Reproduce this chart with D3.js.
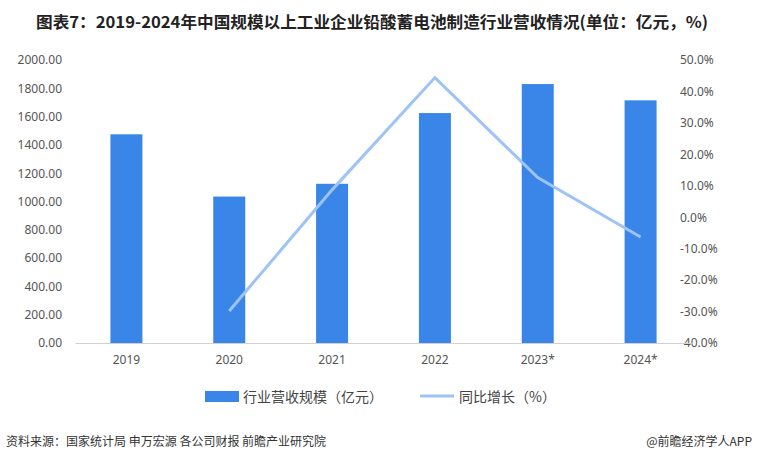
<!DOCTYPE html>
<html><head><meta charset="utf-8">
<script src="https://cdn.jsdelivr.net/npm/d3@7"></script>
<style>body{margin:0;background:#fff;font-family:"Noto Sans CJK SC","Noto Sans",sans-serif}</style>
</head><body><div id="chart"></div>
<script>
var years = ["2019","2020","2021","2022","2023*","2024*"];
var revenue = [1475, 1035, 1125, 1625, 1830, 1715];
var growth = [null, -29.8, 8.7, 44.4, 12.6, -6.3];
var leftTicks = [0,200,400,600,800,1000,1200,1400,1600,1800,2000];
var rightTicks = [-40,-30,-20,-10,0,10,20,30,40,50];

var W = 760, H = 461;
var svg = d3.select("#chart").append("svg").attr("width", W).attr("height", H);
var plotTop = 60, plotBottom = 343, plotLeft = 75, plotRight = 692;

svg.append("text").attr("x", 372).attr("y", 28).attr("text-anchor","middle")
  .attr("font-size", 16).attr("font-weight","bold").attr("fill","#222")
  .attr("textLength", 672).attr("lengthAdjust","spacingAndGlyphs")
  .text("图表7：2019-2024年中国规模以上工业企业铅酸蓄电池制造行业营收情况(单位：亿元，%)");

var x = d3.scaleBand().domain(years).range([plotLeft, plotRight]);
var y = d3.scaleLinear().domain([0,2000]).range([plotBottom, plotTop]);
var y2 = d3.scaleLinear().domain([-40,50]).range([plotBottom, plotTop]);

// left axis
var ya = svg.append("g").attr("transform","translate(" + (plotLeft - 11) + ",0)")
  .call(d3.axisLeft(y).tickValues(leftTicks).tickFormat(d3.format(".2f")).tickSize(0).tickPadding(2));
ya.select(".domain").remove();
ya.selectAll("text").attr("font-size",12).attr("fill","#555").attr("font-family","Noto Sans, sans-serif");

// right axis
var yr = svg.append("g").attr("transform","translate(" + (plotRight - 16) + ",0)")
  .call(d3.axisRight(y2).tickValues(rightTicks).tickFormat(function(d){return d.toFixed(1)+"%";}).tickSize(0).tickPadding(4));
yr.select(".domain").remove();
yr.selectAll("text").attr("font-size",12).attr("fill","#555").attr("font-family","Noto Sans, sans-serif");

// bars
svg.selectAll(".bar").data(revenue).enter().append("rect")
  .attr("x", function(d,i){return x(years[i]) + x.bandwidth()/2 - 16;})
  .attr("width", 32)
  .attr("y", function(d){return y(d);})
  .attr("height", function(d){return plotBottom - y(d);})
  .attr("fill", "#3a86e8");

// x axis
var xa = svg.append("g").attr("transform","translate(0," + plotBottom + ")")
  .call(d3.axisBottom(x).tickSize(0).tickPadding(12));
xa.select(".domain").attr("stroke","#d0d0d0");
xa.selectAll("text").attr("font-size",12).attr("fill","#555").attr("font-family","Noto Sans, sans-serif");

// line
var line = d3.line().defined(function(d){return d !== null;})
  .x(function(d,i){return x(years[i]) + x.bandwidth()/2;})
  .y(function(d){return y2(d);});
svg.append("path").datum(growth).attr("d", line)
  .attr("fill","none").attr("stroke","#9dc3f7").attr("stroke-width",3);

// legend
svg.append("rect").attr("x",205).attr("y",391).attr("width",34).attr("height",11).attr("fill","#3a86e8");
svg.append("text").attr("x",243).attr("y",402).attr("font-size",14).attr("fill","#444").text("行业营收规模（亿元）");
svg.append("line").attr("x1",420).attr("x2",454).attr("y1",396).attr("y2",396).attr("stroke","#9dc3f7").attr("stroke-width",3);
svg.append("text").attr("x",459).attr("y",402).attr("font-size",14).attr("fill","#444").text("同比增长（%）");

// footer
svg.append("text").attr("x",6).attr("y",446).attr("font-size",12).attr("fill","#333")
  .text("资料来源：国家统计局 申万宏源 各公司财报 前瞻产业研究院");
svg.append("text").attr("x",752).attr("y",446).attr("text-anchor","end").attr("font-size",12).attr("fill","#333")
  .text("@前瞻经济学人APP");
</script></body></html>
